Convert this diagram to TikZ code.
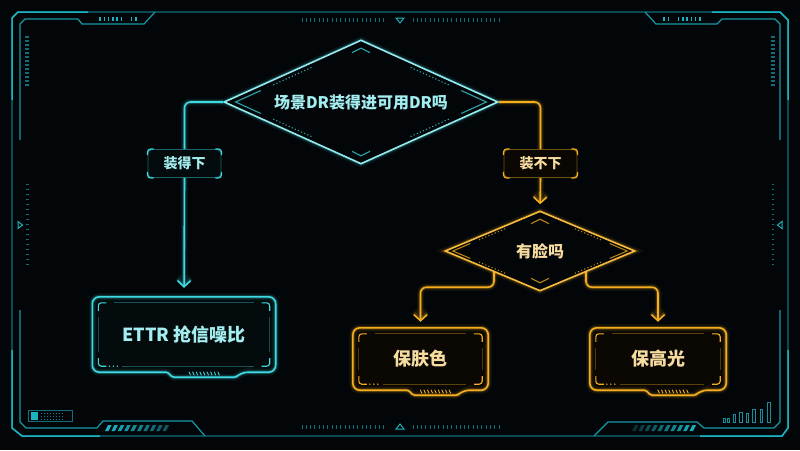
\documentclass[tikz,border=0pt]{standalone}
\usepackage{fontspec}
\setmainfont{Noto Sans CJK SC}
\usetikzlibrary{positioning,arrows.meta,calc,shapes.geometric}

\definecolor{bgdark}{HTML}{030608}
\definecolor{framedim}{HTML}{0E6F7A}
\definecolor{framelit}{HTML}{1BB3C2}
\definecolor{flowcyan}{HTML}{3FD9E2}
\definecolor{flowgold}{HTML}{F4AE1E}
\definecolor{txtcyan}{HTML}{A3EEF0}
\definecolor{txtgold}{HTML}{F7DCA0}
\definecolor{fillcyan}{HTML}{040B0D}
\definecolor{fillgold}{HTML}{0B0804}

\tikzset{
  glow/.style={preaction={draw=#1,line width=7pt,opacity=.08},
               preaction={draw=#1,line width=3.6pt,opacity=.22}},
  dia/.style={diamond,inner sep=0pt,line width=1.6pt,align=center},
  tagbox/.style={rounded corners=4pt,minimum width=73pt,minimum height=28pt,inner sep=0pt,
                 line width=.9pt,font=\fontsize{14}{16}\selectfont\bfseries},
  hudbox/.style={rounded corners=7pt,inner sep=0pt},
  conn/.style={line width=1.6pt,rounded corners=6pt},
  flowtip/.style={-{Straight Barb[length=6pt,width=13pt]}}
}

% corner brackets of a node: node, inset, arm
\newcommand{\cornermarks}[3]{%
  \draw[rounded corners=3pt] ($(#1.north west)+(#2,#2+#3)$) -- ($(#1.north west)+(#2,#2)$) -- ($(#1.north west)+(#2+#3,#2)$);
  \draw[rounded corners=3pt] ($(#1.north east)+(-#2,#2+#3)$) -- ($(#1.north east)+(-#2,#2)$) -- ($(#1.north east)+(-#2-#3,#2)$);
  \draw[rounded corners=3pt] ($(#1.south west)+(#2,-#2-#3)$) -- ($(#1.south west)+(#2,-#2)$) -- ($(#1.south west)+(#2+#3,-#2)$);
  \draw[rounded corners=3pt] ($(#1.south east)+(-#2,-#2-#3)$) -- ($(#1.south east)+(-#2,-#2)$) -- ($(#1.south east)+(-#2-#3,-#2)$);
}

% shell with bottom tab, inner brackets and ticks
\newcommand{\panelframe}[2]{%
  \draw[#2,line width=1.6pt,glow=#2,rounded corners=7pt]
    ($(#1.south west)!.41!(#1.south east)$) -- (#1.south west) -- (#1.north west) -- (#1.north east)
    -- (#1.south east) -- ($(#1.south west)!.81!(#1.south east)$) [rounded corners=1.5pt] -- ++(-5,5)
    -- ($(#1.south west)!.41!(#1.south east)+(5,5)$) -- cycle;
  \begin{scope}[#2,line width=1.1pt]
    \cornermarks{#1}{6}{8}
  \end{scope}
  \draw[#2,opacity=.35,line width=.8pt] ($(#1.north west)+(22,6)$) -- ($(#1.north east)+(-22,6)$);
  \draw[#2,opacity=.35,line width=.8pt] ($(#1.south west)+(30,-6)$) -- ($(#1.south east)+(-22,-6)$);
  \draw[#2,opacity=.3,line width=.8pt] ($(#1.north west)+(6,20)$) -- ($(#1.south west)+(6,-20)$);
  \draw[#2,opacity=.3,line width=.8pt] ($(#1.north east)+(-6,20)$) -- ($(#1.south east)+(-6,-20)$);
  \foreach \k in {0,1,2} \fill[#2] ($(#1.south west)+(17+4*\k,-6)$) circle (.8pt);
  \foreach \k in {-4,...,4}
    \draw[#2,line width=.9pt] ($(#1.south west)!.61!(#1.south east)+(3.6*\k-.8,-.5)$) -- ++(1.6,3.5);
}

% inner lines and chevrons of a decision
\newcommand{\diadeco}[2]{%
  \coordinate (iL) at ($(#1.center)!.91!(#1.west)$);
  \coordinate (iR) at ($(#1.center)!.91!(#1.east)$);
  \coordinate (iT) at ($(#1.center)!.91!(#1.north)$);
  \coordinate (iB) at ($(#1.center)!.91!(#1.south)$);
  \draw[#2,line width=1.1pt] ($(iL)!.2!(iT)$) -- (iL) -- ($(iL)!.2!(iB)$);
  \draw[#2,line width=1.1pt] ($(iR)!.2!(iT)$) -- (iR) -- ($(iR)!.2!(iB)$);
  \foreach \s/\e in {iL/iT,iL/iB,iR/iT,iR/iB}
    \draw[#2,line width=1.1pt,dash pattern=on 1.2pt off 2.2pt] ($(\s)!.3!(\e)$) -- ($(\s)!.62!(\e)$);
  \draw[#2,line width=1.1pt] ($(#1.north)+(-9,13.5)$) -- ($(#1.north)+(0,9)$) -- ($(#1.north)+(9,13.5)$);
  \draw[#2,line width=1.1pt] ($(#1.south)+(-9,-13.5)$) -- ($(#1.south)+(0,-9)$) -- ($(#1.south)+(9,-13.5)$);
}

\begin{document}
\begin{tikzpicture}[x=1pt,y=-1pt]
  \fill[bgdark] (0,0) rectangle (800,450);
  \useasboundingbox (0,0) rectangle (800,450);

  % HUD frame
  \draw[framedim,line width=1.3pt] (12,18) -- (18,12) -- (780,12) -- (788,20) -- (788,428) -- (782,436) -- (22,436) -- (12,428) -- cycle;
  \draw[framelit,line width=1.5pt] (12,100) -- (12,18) -- (18,12) -- (88,12);
  \draw[framelit,line width=1.5pt] (712,12) -- (780,12) -- (788,20) -- (788,100);
  \draw[framelit,line width=1.5pt] (12,350) -- (12,428) -- (22,436) -- (100,436);
  \draw[framelit,line width=1.5pt] (700,436) -- (782,436) -- (788,428) -- (788,350);
  \draw[framelit!85!black,line width=1.2pt] (20,140) -- (20,24) -- (25,19) -- (78,19) -- (82,24) -- (144,24) -- (155,12);
  \draw[framelit!85!black,line width=1.2pt] (645,12) -- (656,24) -- (717,24) -- (722,19) -- (775,19) -- (780,24) -- (780,140);
  \draw[framelit!85!black,line width=1.2pt] (20,310) -- (20,422) -- (26,428) -- (97,428) -- (103,421) -- (192,421) -- (205,436);
  \draw[framelit!85!black,line width=1.2pt] (780,310) -- (780,422) -- (774,428) -- (704,428) -- (697,422) -- (608,422) -- (594,436);
  \foreach \x in {100,104.3,108.6,112.9,117.2,121.5,131.5,135.8} {
    \draw[framelit,line width=1.5pt] (\x,16.5) -- (\x,20.5);
    \draw[framelit,line width=1.5pt] (800-\x,16.5) -- (800-\x,20.5);
  }
  \foreach \y in {37,41,...,85} {
    \draw[framedim,line width=1.2pt] (25,\y) -- (29,\y);
    \draw[framedim,line width=1.2pt] (771,\y) -- (775,\y);
  }
  \foreach \y in {184,189,...,266} {
    \draw[framedim,line width=1pt] (26,\y) -- (28.5,\y);
    \draw[framedim,line width=1pt] (771.5,\y) -- (774,\y);
  }
  \draw[framelit,line width=1pt] (18,221.5) -- (22.5,225) -- (18,228.5) -- cycle;
  \draw[framelit,line width=1pt] (782,221.5) -- (777.5,225) -- (782,228.5) -- cycle;
  \foreach \x in {302,306.3,...,387} {
    \draw[framedim,line width=1pt] (\x,18) -- (\x,22);
    \draw[framedim,line width=1pt] (\x,425) -- (\x,429);
  }
  \foreach \x in {413,417.3,...,500} {
    \draw[framedim,line width=1pt] (\x,18) -- (\x,22);
    \draw[framedim,line width=1pt] (\x,425) -- (\x,429);
  }
  \draw[framelit,line width=1pt] (396,18) -- (404,18) -- (400,23) -- cycle;
  \draw[framelit,line width=1pt] (396,429) -- (404,429) -- (400,424) -- cycle;
  \foreach \i [evaluate=\i as \op using 1-0.06*\i] in {0,...,9}
    \fill[framelit,opacity=\op] (105+\i*6.4,431) -- (108+\i*6.4,425) -- (111.5+\i*6.4,425) -- (108.5+\i*6.4,431) -- cycle;
  \foreach \i [evaluate=\i as \op using 0.25+0.08*\i] in {0,...,9}
    \fill[framelit,opacity=\op] (632+\i*6.4,431) -- (635+\i*6.4,425) -- (638.5+\i*6.4,425) -- (635.5+\i*6.4,431) -- cycle;
  \draw[framedim,line width=.8pt] (28,410) rectangle (72,421.5);
  \fill[framelit] (30.5,412) rectangle (38,419.5);
  \foreach \x in {41,44,...,62}
    \foreach \y in {412.5,415.5,418.5}
      \fill[framelit!70!black] (\x,\y) rectangle ++(1.3,1.3);
  \foreach \x/\h in {723/4,727/4,733/8,739.5/10,746/9,752.5/13,760/12.5,767.5/20}
    \draw[framelit!80!black,line width=.8pt] (\x,422) rectangle ++(2.6,-\h);

  % decisions
  \node[dia,aspect=2.2,minimum width=274pt,minimum height=124pt,draw=flowcyan!55!white,glow=flowcyan,fill=bgdark,
        text=txtcyan,font=\fontsize{16}{18}\selectfont\bfseries] (fits) at (361,102) {场景DR装得进可用DR吗};
  \diadeco{fits}{flowcyan!75!black}
  \node[dia,aspect=2.4,minimum width=190pt,minimum height=80pt,draw=flowgold!85!white,glow=flowgold,fill=bgdark,
        text=txtgold,font=\fontsize{16}{18}\selectfont\bfseries] (face) at (540,251) {有脸吗};
  \diadeco{face}{flowgold!75!black}

  % branch tags
  \node[tagbox,draw=flowcyan!45!bgdark,fill=fillcyan,text=txtcyan] (fitsyes) at (184.5,163.5) {装得下};
  \node[tagbox,draw=flowgold!45!bgdark,fill=fillgold,text=txtgold] (fitsno) at (540.5,163.5) {装不下};
  \begin{scope}[flowcyan,line width=1.2pt]
    \cornermarks{fitsyes}{0}{6}
  \end{scope}
  \begin{scope}[flowgold,line width=1.2pt]
    \cornermarks{fitsno}{0}{6}
  \end{scope}

  % results
  \node[hudbox,fill=fillcyan,minimum width=183pt,minimum height=75pt,text=txtcyan,
        font=\fontsize{18}{20}\selectfont\bfseries] (ettr) at (184,334.5) {ETTR 抢信噪比};
  \panelframe{ettr}{flowcyan}
  \node[hudbox,fill=fillgold,minimum width=135pt,minimum height=62pt,text=txtgold,
        font=\fontsize{18}{20}\selectfont\bfseries] (skin) at (420.5,359) {保肤色};
  \panelframe{skin}{flowgold}
  \node[hudbox,fill=fillgold,minimum width=136pt,minimum height=62pt,text=txtgold,
        font=\fontsize{18}{20}\selectfont\bfseries] (hilite) at (658,359) {保高光};
  \panelframe{hilite}{flowgold}

  % connectors
  \draw[flowcyan,conn,glow=flowcyan] (fits.west) -| (fitsyes.north);
  \draw[flowcyan,conn,glow=flowcyan,flowtip,shorten >=9pt] (fitsyes.south) -- (ettr.north);
  \draw[flowgold,conn,glow=flowgold] (fits.east) -| (fitsno.north);
  \draw[flowgold,conn,glow=flowgold,flowtip,shorten >=6pt] (fitsno.south) -- (face.north);
  \coordinate (faceL) at ($(face.west)!.52!(face.south)$);
  \coordinate (faceR) at ($(face.east)!.52!(face.south)$);
  \draw[flowgold,conn,glow=flowgold,flowtip,shorten >=6pt] (faceL) -- ++(0,15) -| (skin.north);
  \draw[flowgold,conn,glow=flowgold,flowtip,shorten >=6pt] (faceR) -- ++(0,15) -| (hilite.north);
\end{tikzpicture}
\end{document}
